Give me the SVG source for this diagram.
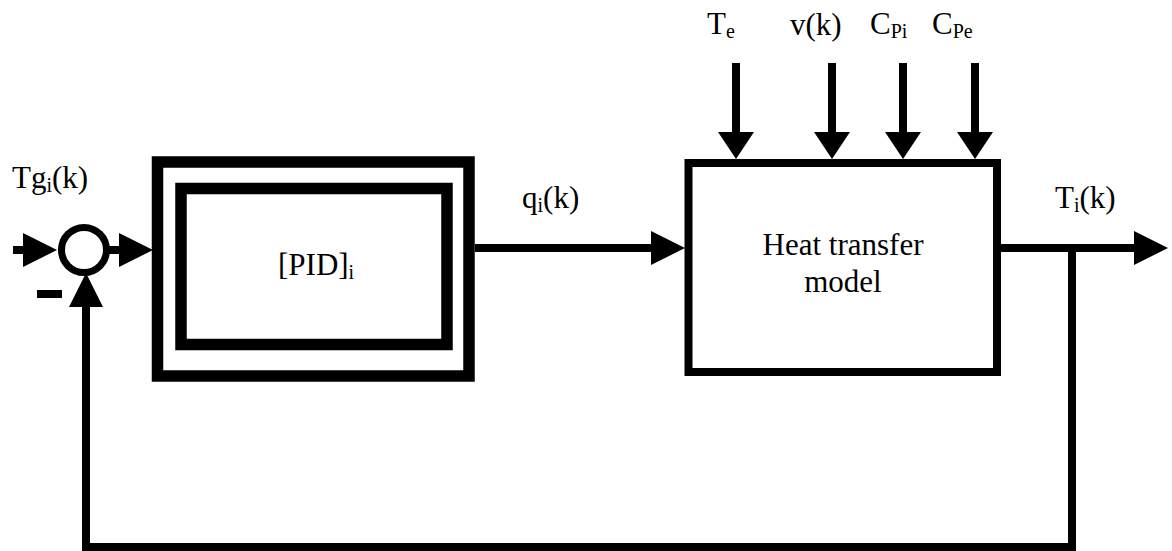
<svg xmlns="http://www.w3.org/2000/svg" width="1172" height="551" viewBox="0 0 1172 551">
<defs>
<marker id="ah" markerUnits="userSpaceOnUse" markerWidth="40" markerHeight="40" viewBox="0 -20 40 40" refX="0" refY="0" orient="auto">
<path d="M0,-17 L34,0 L0,17 Z" fill="#000"/>
</marker>
<marker id="ahs" markerUnits="userSpaceOnUse" markerWidth="40" markerHeight="40" viewBox="0 -20 40 40" refX="0" refY="0" orient="auto">
<path d="M0,-18 L27,0 L0,18 Z" fill="#000"/>
</marker>
</defs>
<style>
text{font-family:'Liberation Serif','Times New Roman','DejaVu Serif',serif;font-size:31px;fill:#000}
.s{font-size:20px}
.ln{fill:none;stroke:#000;stroke-width:8}
.box{fill:#fff;stroke:#000}
</style>
<rect x="0" y="0" width="1172" height="551" fill="#fff"/>

<g id="connectors">
<line class="ln" x1="13" y1="250" x2="23" y2="250" marker-end="url(#ah)"/>
<line class="ln" x1="106" y1="250" x2="119" y2="250" marker-end="url(#ah)"/>
<line class="ln" x1="475" y1="248" x2="651" y2="248" marker-end="url(#ah)"/>
<line class="ln" x1="1001" y1="248" x2="1134" y2="248" marker-end="url(#ah)"/>
<polyline class="ln" points="1072,248 1072,547 86,547 86,307" marker-end="url(#ah)"/>
<line class="ln" x1="736" y1="63" x2="736" y2="132" marker-end="url(#ahs)"/>
<line class="ln" x1="832" y1="63" x2="832" y2="132" marker-end="url(#ahs)"/>
<line class="ln" x1="903" y1="63" x2="903" y2="132" marker-end="url(#ahs)"/>
<line class="ln" x1="975" y1="63" x2="975" y2="132" marker-end="url(#ahs)"/>
</g>

<g id="sum">
<circle cx="84" cy="250" r="22.5" fill="#fff" stroke="#000" stroke-width="7"/>
<rect x="37" y="290" width="25" height="8" fill="#000"/>
<text font-family="Liberation Serif, serif" x="12" y="188">Tg<tspan class="s" dy="4">i</tspan><tspan dy="-4">(k)</tspan></text>
</g>

<g id="pid">
<rect class="box" x="157.5" y="162" width="311.5" height="214" stroke-width="11.5"/>
<rect class="box" x="181" y="188.5" width="266" height="156" stroke-width="11.5"/>
<text font-family="Liberation Serif, serif" x="278" y="275">[PID]<tspan class="s" dy="4">i</tspan></text>
</g>

<g id="heat">
<rect class="box" x="688.5" y="163" width="308.5" height="209" stroke-width="8"/>
<text font-family="Liberation Serif, serif" x="843" y="255" text-anchor="middle">Heat transfer</text>
<text font-family="Liberation Serif, serif" x="843" y="292" text-anchor="middle">model</text>
</g>

<g id="labels">
<text font-family="Liberation Serif, serif" x="522" y="208">q<tspan class="s" dy="4">i</tspan><tspan dy="-4">(k)</tspan></text>
<text font-family="Liberation Serif, serif" x="1055" y="208">T<tspan class="s" dy="4">i</tspan><tspan dy="-4">(k)</tspan></text>
<text font-family="Liberation Serif, serif" x="707" y="34">T<tspan class="s" dy="4">e</tspan></text>
<text font-family="Liberation Serif, serif" x="790" y="35">v(k)</text>
<text font-family="Liberation Serif, serif" x="870" y="34">C<tspan class="s" dy="4">Pi</tspan></text>
<text font-family="Liberation Serif, serif" x="932" y="34">C<tspan class="s" dy="4">Pe</tspan></text>
</g>
</svg>
